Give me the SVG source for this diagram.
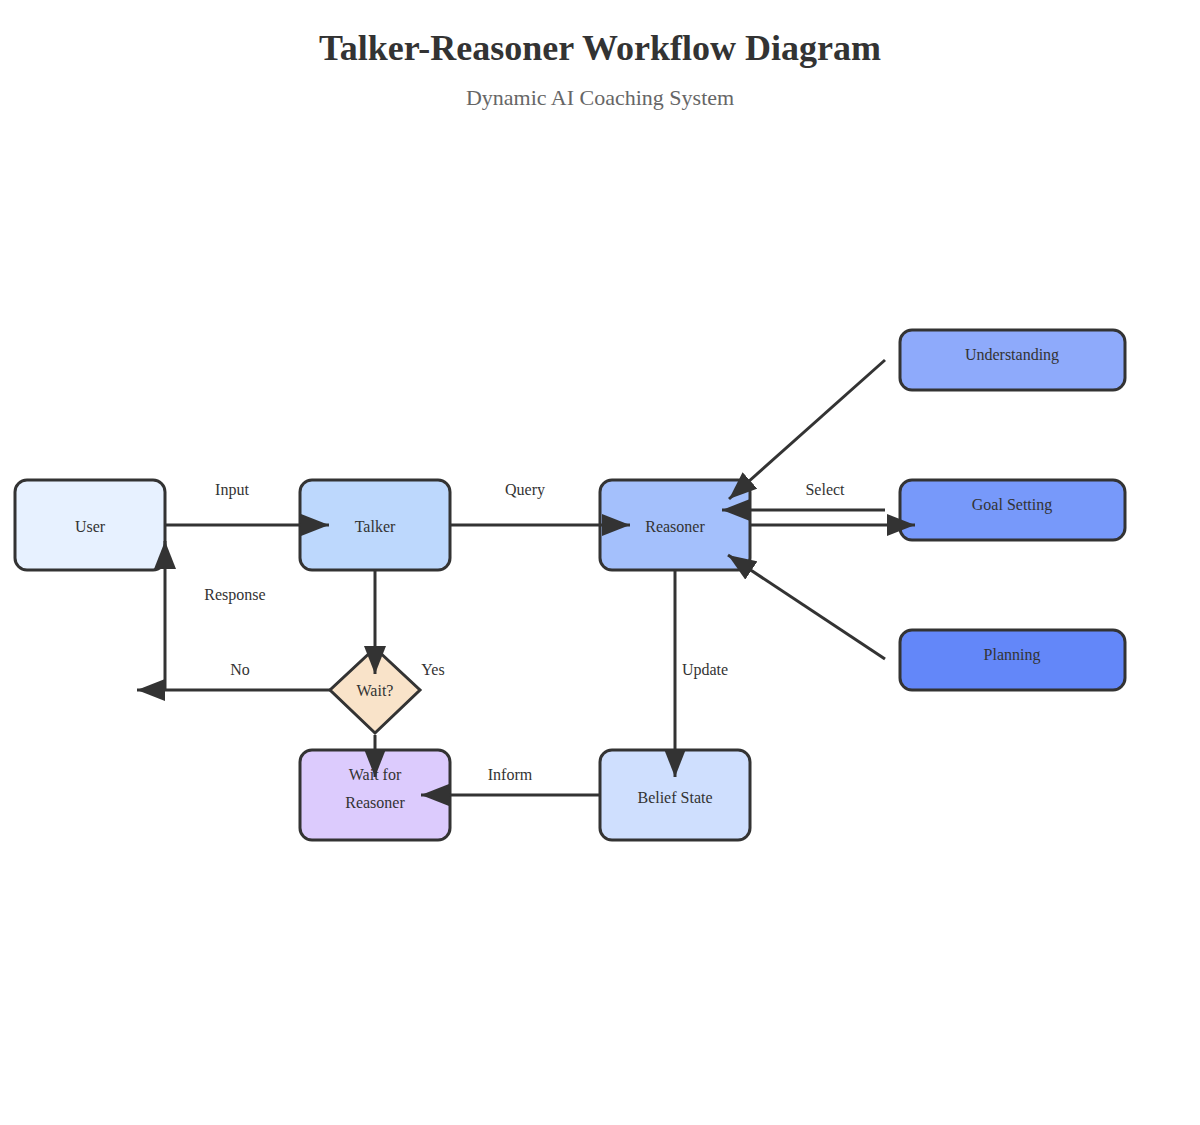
<svg xmlns="http://www.w3.org/2000/svg" width="1200" height="1125" viewBox="0 0 1200 1125">
<style>
.node{stroke:#333;stroke-width:3}
.t{font-family:"Liberation Serif","Times New Roman",serif;font-size:16px;fill:#333;text-anchor:middle}
.lbl{font-family:"Liberation Serif","Times New Roman",serif;font-size:16px;fill:#333;text-anchor:middle}
.edge{stroke:#333;stroke-width:3;fill:none}
</style>
<defs>
<marker id="arr" viewBox="0 0 28 22" refX="28" refY="11" markerWidth="28" markerHeight="22" markerUnits="userSpaceOnUse" orient="auto">
<path d="M0,0 L28,11 L0,22 z" fill="#333"/>
</marker>
</defs>
<rect width="1200" height="1125" fill="#fff"/>
<text x="600" y="60" font-family="'Liberation Serif','Times New Roman',serif" font-size="36" font-weight="bold" fill="#333" text-anchor="middle">Talker-Reasoner Workflow Diagram</text>
<text x="600" y="105" font-family="'Liberation Serif','Times New Roman',serif" font-size="22" fill="#666" text-anchor="middle">Dynamic AI Coaching System</text>

<g id="user"><rect class="node" x="15" y="480" width="150" height="90" rx="12" fill="#e7f1ff"/><text class="t" x="90" y="532">User</text></g>
<g id="talker"><rect class="node" x="300" y="480" width="150" height="90" rx="12" fill="#bdd8fd"/><text class="t" x="375" y="532">Talker</text></g>
<g id="reasoner"><rect class="node" x="600" y="480" width="150" height="90" rx="12" fill="#a4c0fc"/><text class="t" x="675" y="532">Reasoner</text></g>
<g id="understanding"><rect class="node" x="900" y="330" width="225" height="60" rx="12" fill="#8eaafb"/><text class="t" x="1012" y="360">Understanding</text></g>
<g id="goal"><rect class="node" x="900" y="480" width="225" height="60" rx="12" fill="#7799fa"/><text class="t" x="1012" y="510">Goal Setting</text></g>
<g id="planning"><rect class="node" x="900" y="630" width="225" height="60" rx="12" fill="#6387f9"/><text class="t" x="1012" y="660">Planning</text></g>
<g id="wait"><polygon class="node" points="375,648 420,690 375,733 330,690" fill="#f9e3c9"/><text class="t" x="375" y="696">Wait?</text></g>
<g id="waitfor"><rect class="node" x="300" y="750" width="150" height="90" rx="12" fill="#dccbfd"/><text class="t" x="375" y="780">Wait for</text><text class="t" x="375" y="808">Reasoner</text></g>
<g id="belief"><rect class="node" x="600" y="750" width="150" height="90" rx="12" fill="#cfdffe"/><text class="t" x="675" y="803">Belief State</text></g>

<g id="connectors">
<line class="edge" x1="165" y1="525" x2="329" y2="525" marker-end="url(#arr)"/>
<line class="edge" x1="450" y1="525" x2="630" y2="525" marker-end="url(#arr)"/>
<line class="edge" x1="165" y1="690" x2="165" y2="541" marker-end="url(#arr)"/>
<line class="edge" x1="330" y1="690" x2="137" y2="690" marker-end="url(#arr)"/>
<line class="edge" x1="375" y1="570" x2="375" y2="674" marker-end="url(#arr)"/>
<line class="edge" x1="375" y1="735" x2="375" y2="777" marker-end="url(#arr)"/>
<line class="edge" x1="675" y1="570" x2="675" y2="777" marker-end="url(#arr)"/>
<line class="edge" x1="600" y1="795" x2="421" y2="795" marker-end="url(#arr)"/>
<line class="edge" x1="885" y1="510" x2="722" y2="510" marker-end="url(#arr)"/>
<line class="edge" x1="750" y1="525" x2="915" y2="525" marker-end="url(#arr)"/>
<line class="edge" x1="885" y1="360" x2="729" y2="499" marker-end="url(#arr)"/>
<line class="edge" x1="885" y1="659" x2="728" y2="555" marker-end="url(#arr)"/>
<text class="lbl" x="232" y="495">Input</text>
<text class="lbl" x="525" y="495">Query</text>
<text class="lbl" x="235" y="600">Response</text>
<text class="lbl" x="240" y="675">No</text>
<text class="lbl" x="433" y="675">Yes</text>
<text class="lbl" x="705" y="675">Update</text>
<text class="lbl" x="510" y="780">Inform</text>
<text class="lbl" x="825" y="495">Select</text>
</g>
</svg>
